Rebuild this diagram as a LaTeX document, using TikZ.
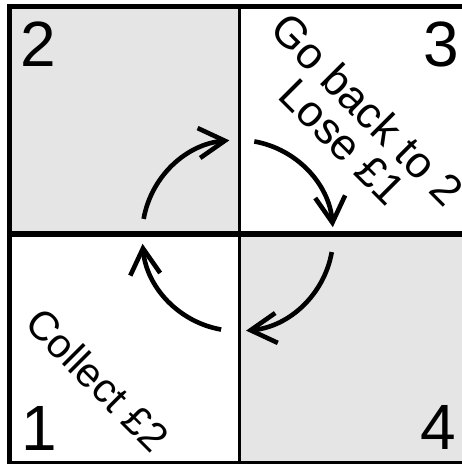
\documentclass[tikz,border=0pt]{standalone}
\usepackage{fontspec}
\setmainfont{Liberation Sans}
\usetikzlibrary{arrows.meta}
\begin{document}
\begin{tikzpicture}[x=1pt,y=1pt,
  cellbox/.style={draw=black,line width=3.3pt,minimum width=228.7pt,minimum height=226.8pt,inner sep=0pt,anchor=south west},
  lowcell/.style={cellbox,minimum height=228.5pt},
  shaded/.style={fill=gray!20},
  digit/.style={anchor=base,inner sep=0pt,font=\fontsize{64}{70}\selectfont},
  note/.style={anchor=base,inner sep=0pt,rotate=-45},
  cyc/.style={line width=4.6pt,line cap=butt,-{Straight Barb[length=26pt,width=30pt,line cap=butt]}}]
\useasboundingbox (0,0) rectangle (462,464);
\clip (0,0) rectangle (462,464);
% cells
\node[cellbox,shaded] (c2) at (9,228.5) {};
\node[cellbox] (c3) at (237.7,228.5) {};
\node[lowcell] (c1) at (9,0) {};
\node[lowcell,shaded] (c4) at (237.7,0) {};
\draw[line width=3.3pt] (c2.south west) rectangle (c3.north east);
\draw[line width=3.3pt] (c1.south west) rectangle (c4.north east);
% digits
\node[digit] (n2) at (38.3,397.3) {2};
\node[digit] (n3) at (440.8,397.5) {3};
\node[digit] (n1) at (38.8,13) {1};
\node[digit] (n4) at (438.3,14) {4};
% texts
\node[note,font=\fontsize{44}{50}\selectfont] (t1) at (356.3,343.8) {Go back to 2};
\node[note,font=\fontsize{44}{50}\selectfont] (t2) at (331.8,311.2) {Lose £1};
\node[note,font=\fontsize{41}{46}\selectfont] (t3) at (87.5,73.8) {Collect £2};
% cycle arrows
\coordinate (o) at (237.7,228.5);
\draw[cyc] ([shift={(170:95.5)}]o) arc[start angle=170,end angle=95,radius=95.5];
\draw[cyc] ([shift={(80:95.5)}]o) arc[start angle=80,end angle=5,radius=95.5];
\draw[cyc] ([shift={(-10:95.5)}]o) arc[start angle=-10,end angle=-85,radius=95.5];
\draw[cyc] ([shift={(-100:95.5)}]o) arc[start angle=-100,end angle=-175,radius=95.5];
\end{tikzpicture}
\end{document}
